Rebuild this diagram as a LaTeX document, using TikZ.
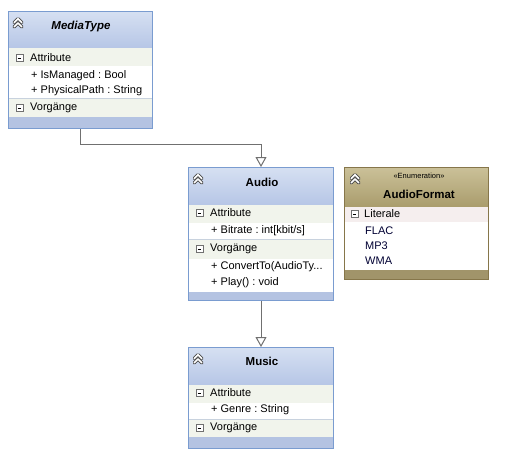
\documentclass[tikz,border=0pt]{standalone}
\usepackage{fontspec}
\setmainfont{Liberation Sans}
\usetikzlibrary{arrows.meta}
\frenchspacing
\definecolor{bborder}{HTML}{7A9CD0}
\definecolor{bhtop}{HTML}{D6E0F2}
\definecolor{bhbot}{HTML}{B6C6E6}
\definecolor{bband}{HTML}{B4C3E2}
\definecolor{brow}{HTML}{F1F4EC}
\definecolor{bdiv}{HTML}{C8D2DE}
\definecolor{kborder}{HTML}{86764A}
\definecolor{khtop}{HTML}{CBC199}
\definecolor{khbot}{HTML}{A99C6C}
\definecolor{kband}{HTML}{A1946A}
\definecolor{krow}{HTML}{F5EEEE}
\definecolor{conn}{HTML}{707070}
\definecolor{iconc}{HTML}{707070}
\definecolor{chevc}{HTML}{4A4A4A}
\tikzset{
  x=1pt, y=-1pt,
  txt/.style={inner sep=0pt, anchor=west, font=\fontsize{11}{12}\selectfont},
  ttl/.style={inner sep=0pt, font=\fontsize{11.5}{12}\selectfont\bfseries},
  bluebox/.style={draw=bborder, line width=1pt, inner sep=0pt, anchor=north west},
  khakibox/.style={draw=kborder, line width=1pt, inner sep=0pt, anchor=north west},
  gen/.style={draw=conn, line width=1pt, -{Triangle[open, length=10pt, width=11pt, fill=white]}},
}
% minus icon at (x,y) = left edge x, center y
\newcommand{\minusicon}[2]{%
  \draw[iconc, fill=white, line width=0.8pt] (#1,#2-3.5) rectangle (#1+7,#2+3.5);
  \draw[black, line width=0.9pt] (#1+1.8,#2) -- (#1+5.2,#2);}
% collapse chevrons: center
\newcommand{\chevicon}[2]{%
  \begin{scope}[shift={(#1,#2)}]
  \draw[chevc, line width=3.4pt, line join=round, line cap=round] (-3.8,-0.5) -- (0,-4.3) -- (3.8,-0.5) (-3.8,3.8) -- (0,0) -- (3.8,3.8);
  \draw[white, line width=1.5pt, line join=round, line cap=round] (-3.8,-0.5) -- (0,-4.3) -- (3.8,-0.5) (-3.8,3.8) -- (0,0) -- (3.8,3.8);
  \end{scope}}
\begin{document}
\begin{tikzpicture}
\useasboundingbox (0,0) rectangle (506,464);
\fill[white] (0,0) rectangle (506,464);

% ---------- MediaType ----------
\shade[top color=bhtop, bottom color=bhbot] (8,11) rectangle (152,48);
\fill[brow] (8,48) rectangle (152,66);
\fill[white] (8,66) rectangle (152,98);
\fill[brow] (8,99) rectangle (152,117);
\draw[bdiv] (8,98.5) -- (152,98.5);
\fill[bband] (8,117) rectangle (152,128);
\node[bluebox, minimum width=144pt, minimum height=117pt] (mediatype) at (8,11) {};
\chevicon{18}{23}
\node[ttl] (mtT) at (81,27) {\itshape MediaType};
\minusicon{16}{58}
\node[txt] (mtA) at (30,58) {Attribute};
\node[txt] (mt1) at (31,76) {+ IsManaged : Bool};
\node[txt] (mt2) at (31,91) {+ PhysicalPath : String};
\minusicon{16}{108}
\node[txt] (mtV) at (30,108) {Vorgänge};

% ---------- Audio ----------
\shade[top color=bhtop, bottom color=bhbot] (188,167) rectangle (333,205);
\fill[brow] (188,205) rectangle (333,223);
\fill[white] (188,223) rectangle (333,239);
\fill[brow] (188,240) rectangle (333,259);
\draw[bdiv] (188,239.5) -- (333,239.5);
\fill[white] (188,259) rectangle (333,292);
\fill[bband] (188,292) rectangle (333,300);
\node[bluebox, minimum width=145pt, minimum height=133pt] (audio) at (188,167) {};
\chevicon{198}{179}
\node[ttl] (auT) at (262,182) {Audio};
\minusicon{196}{213}
\node[txt] (auA) at (210,213) {Attribute};
\node[txt] (au1) at (211,231) {+ Bitrate : int[kbit/s]};
\minusicon{196}{249}
\node[txt] (auV) at (210,249) {Vorgänge};
\node[txt] (au2) at (211,267) {+ ConvertTo(AudioTy...};
\node[txt] (au3) at (211,283) {+ Play() : void};

% ---------- Music ----------
\shade[top color=bhtop, bottom color=bhbot] (188,347) rectangle (333,385);
\fill[brow] (188,385) rectangle (333,403);
\fill[white] (188,403) rectangle (333,419);
\fill[brow] (188,420) rectangle (333,437);
\draw[bdiv] (188,419.5) -- (333,419.5);
\fill[bband] (188,437) rectangle (333,448);
\node[bluebox, minimum width=145pt, minimum height=101pt] (music) at (188,347) {};
\chevicon{198}{359}
\node[ttl] (muT) at (262,361) {Music};
\minusicon{196}{393}
\node[txt] (muA) at (210,393) {Attribute};
\node[txt] (mu1) at (211,410) {+ Genre : String};
\minusicon{196}{428}
\node[txt] (muV) at (210,428) {Vorgänge};

% ---------- AudioFormat ----------
\shade[top color=khtop, bottom color=khbot] (344,167) rectangle (488,207);
\fill[krow] (344,207) rectangle (488,222);
\fill[white] (344,222) rectangle (488,270);
\fill[kband] (344,270) rectangle (488,279);
\node[khakibox, minimum width=144pt, minimum height=112pt] (audioformat) at (344,167) {};
\chevicon{355}{179}
\node[inner sep=0pt, font=\fontsize{7.5}{8}\selectfont] (afS) at (419,176) {«Enumeration»};
\node[ttl] (afT) at (419,194) {AudioFormat};
\minusicon{351}{214}
\node[txt] (afL) at (364,214) {Literale};
\node[txt, text=black!80!blue] (af1) at (365,231) {FLAC};
\node[txt, text=black!80!blue] (af2) at (365,246) {MP3};
\node[txt, text=black!80!blue] (af3) at (365,261) {WMA};

% ---------- connectors ----------
\draw[gen] (mediatype.south) -- ++(0,15) -| (audio.north);
\draw[gen] (audio.south) -- (music.north);
\end{tikzpicture}
\end{document}
